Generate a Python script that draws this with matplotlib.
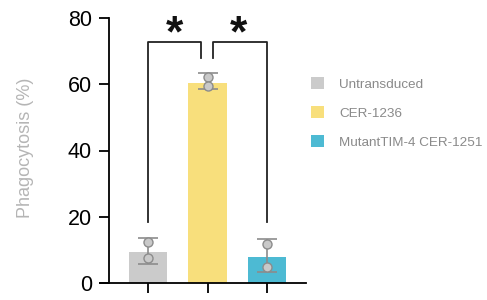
import matplotlib
matplotlib.use("Agg")
import matplotlib.pyplot as plt
from matplotlib.patches import Patch
import numpy as np

plt.rcParams['font.family'] = ['Liberation Sans', 'DejaVu Sans']

categories = ["Untransduced", "CER-1236", "MutantTIM-4 CER-1251"]
means = [9.4, 60.3, 7.9]
err_low = [3.7, 1.8, 4.6]
err_high = [4.3, 3.2, 5.4]
points = [[12.3, 7.4], [62.3, 59.5], [11.8, 4.9]]
colors = ["#cbcbcb", "#f8df7c", "#4dbad3"]
yticks = [0, 20, 40, 60, 80]

fig = plt.figure(figsize=(4.87, 3.00), dpi=100)
L, R, B, T = 100/487, 306/487, 1-283/300, 1-18/300
ax = fig.add_axes([L, B, R-L, T-B])

x = np.arange(len(categories))
step = 59.5
xl = -48/step
xr = xl + (306-100)/step
ax.set_xlim(xl, xr)
ax.set_ylim(0, 80)

ax.bar(x, means, width=0.64, color=colors, zorder=2)
ax.errorbar(x, means, yerr=[err_low, err_high], fmt='none', ecolor='#8c8c8c',
            elinewidth=1.2, capsize=7.5, capthick=1.2, zorder=3)
for xi, pts in zip(x, points):
    ax.plot([xi]*len(pts), pts, 'o', ms=6.5, mfc='#c9c9c9', mec='#8c8c8c', mew=1.0, zorder=4)

for s in ['top', 'right']:
    ax.spines[s].set_visible(False)
ax.spines['left'].set_position(('data', (109-148)/step))
ax.spines['left'].set_bounds(0, 80)
ax.spines['left'].set_linewidth(1.3)
ax.spines['bottom'].set_linewidth(1.3)
ax.set_yticks(yticks)
ax.set_yticklabels([str(v) for v in yticks], fontsize=15.5)
ax.set_xticks(x)
ax.set_xticklabels([])
ax.tick_params(axis='y', length=7.2, width=1.3, pad=5)
ax.tick_params(axis='x', length=7.2, width=1.3)

# significance brackets
def bracket(x1, x2, y, h1, h2):
    ax.plot([x1, x1, x2, x2], [h1, y, y, h2], color='#222222', lw=1.3,
            clip_on=False, zorder=5)
c1 = (201-148)/step
c2 = (213-148)/step
bracket(0, c1, 72.7, 18.5, 68.0)
bracket(c2, 2, 72.7, 68.0, 18.5)
for xs in [(174-148)/step, (238-148)/step]:
    ax.text(xs, 75.0, "*", fontsize=32, fontweight='bold', ha='center',
            va='center', color='#111111', clip_on=False)

fig.text(26/487, 1-148/300, "Phagocytosis (%)", rotation=90, ha='center',
         va='center', fontsize=13, color='#b5b5b5')

handles = [Patch(facecolor=c, edgecolor='none') for c in colors]
leg = fig.legend(handles, categories, loc='center left',
                 bbox_to_anchor=(311/487, 1-113/300), frameon=False,
                 fontsize=9.7, handlelength=0.95, handleheight=0.95,
                 handletextpad=1.15, labelspacing=1.15, borderpad=0, borderaxespad=0)
for t in leg.get_texts():
    t.set_color('#8a8a8a')

fig.savefig("out.png", dpi=100)
